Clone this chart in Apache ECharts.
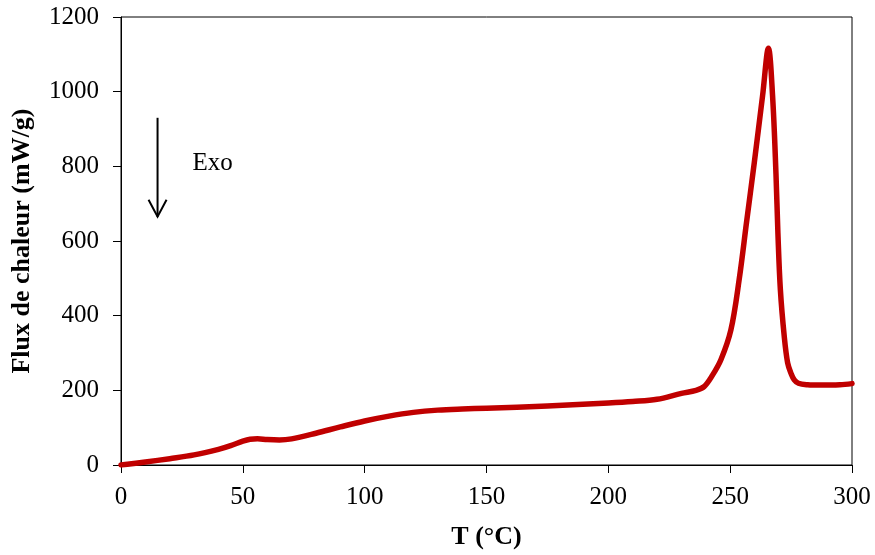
<!DOCTYPE html>
<html><head><meta charset="utf-8">
<script src="https://cdn.jsdelivr.net/npm/echarts@6/dist/echarts.min.js"></script>
<style>html,body{margin:0;padding:0;background:#fff}#c{width:875px;height:555px}</style>
</head><body><div id="c"></div>
<script>
const temps = [0,10,20,30,40,45,50,53,56,60,65,70,80,90,100,110,120,130,140,150,175,200,210,220,230,236,239.3,242.5,246.2,250.3,253.7,256.7,259.9,263.3,265.7,267.4,268.8,269.6,270.6,272.2,273.6,275,276.3,278,281.8,287,295,300];
const flux  = [0,8,17,27,42,52,64,69,70,68,67,70,85,102,118,131,141,147,150,152,158,166,170,176,192,200,210,238,282,362,497,649,810,989,1116,989,780,620,470,344,273,245,228,219,215,214,215,218];
const xTicks = [0,50,100,150,200,250,300];
const yTicks = [0,200,400,600,800,1000,1200];
const xLabel = 'T (°C)';
const yLabel = 'Flux de chaleur (mW/g)';
const note = 'Exo';
const arrowT = 15, arrowFrom = 930, arrowTo = 665;

const font = '"Liberation Serif","Times New Roman",serif';
const chart = echarts.init(document.getElementById('c'));
chart.setOption({
  animation:false,
  backgroundColor:'#fff',
  grid:{left:121,right:23,top:17,bottom:90,show:true,borderColor:'#000',borderWidth:1},
  xAxis:{type:'value',min:xTicks[0],max:xTicks[xTicks.length-1],interval:50,
    name:xLabel,nameLocation:'middle',nameGap:59,
    nameTextStyle:{fontFamily:font,fontSize:26,fontWeight:'bold',color:'#000'},
    axisLine:{lineStyle:{color:'#000',width:1}},
    axisTick:{show:true,inside:false,length:8,lineStyle:{color:'#000'}},
    axisLabel:{fontFamily:font,fontSize:25,color:'#000',margin:20,formatter:v=>String(v)},
    splitLine:{show:false}},
  yAxis:{type:'value',min:yTicks[0],max:yTicks[yTicks.length-1],interval:200,
    name:yLabel,nameLocation:'middle',nameGap:86,
    nameTextStyle:{fontFamily:font,fontSize:26,fontWeight:'bold',color:'#000'},
    axisLine:{show:true,lineStyle:{color:'#000',width:1}},
    axisTick:{show:true,inside:false,length:8,lineStyle:{color:'#000'}},
    axisLabel:{fontFamily:font,fontSize:25,color:'#000',margin:22,formatter:v=>String(v)},
    splitLine:{show:false}},
  series:[{type:'line',data:temps.map((t,i)=>[t,flux[i]]),showSymbol:false,
    smooth:0.35,
    lineStyle:{color:'#C00000',width:5.5,cap:'round',join:'round'}}]
});
const p1 = chart.convertToPixel({gridIndex:0},[arrowT,arrowFrom]);
const p2 = chart.convertToPixel({gridIndex:0},[arrowT,arrowTo]);
chart.setOption({graphic:[
  {type:'line',shape:{x1:p1[0],y1:p1[1],x2:p2[0],y2:p2[1]},style:{stroke:'#000',lineWidth:2}},
  {type:'polyline',shape:{points:[[p2[0]-9,p2[1]-17],[p2[0],p2[1]],[p2[0]+9,p2[1]-17]]},style:{stroke:'#000',lineWidth:2,fill:null}},
  {type:'text',x:p1[0]+35,y:p1[1]+46,style:{text:note,font:'25px '+font,fill:'#000',textVerticalAlign:'middle'}}
]});
</script></body></html>
